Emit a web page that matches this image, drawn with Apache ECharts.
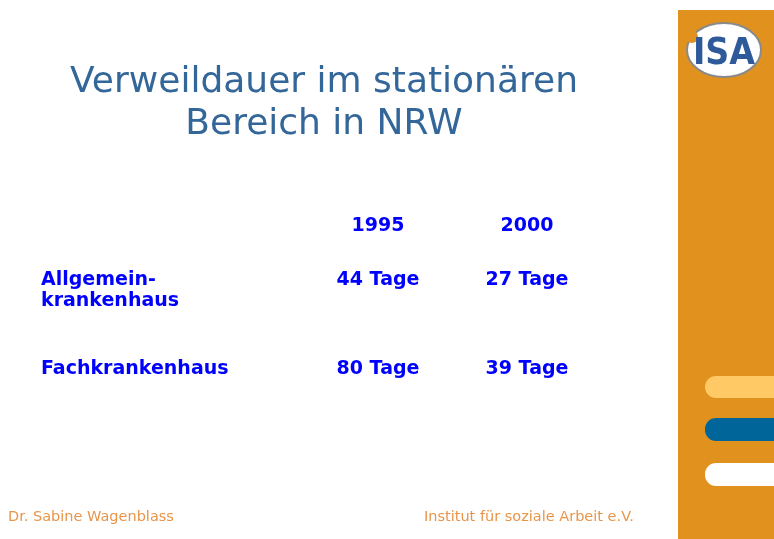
<!DOCTYPE html>
<html>
<head>
<meta charset="utf-8">
<script src="https://cdn.jsdelivr.net/npm/echarts@6/dist/echarts.min.js"></script>
<style>
  html, body { margin: 0; padding: 0; background: #fff; }
  #main { width: 774px; height: 539px; }
</style>
</head>
<body>
<div id="main"></div>
<script>
var years = ["1995", "2000"];
var rows = ["Allgemein-\nkrankenhaus", "Fachkrankenhaus"];
var days1995 = [44, 80];
var days2000 = [27, 39];

var chart = echarts.init(document.getElementById("main"));

var blue = "#0000ff";
var tableFont = "DejaVu Sans";

function points(yearIdx, values) {
  return values.map(function (v, i) {
    return [yearIdx, i, v];
  });
}

var valueLabel = {
  show: true,
  position: "inside",
  offset: [0, 10],
  formatter: function (p) { return p.value[2] + " Tage"; },
  color: blue,
  fontFamily: tableFont,
  fontWeight: "bold",
  fontSize: 19
};

var option = {
  backgroundColor: "#ffffff",
  animation: false,
  grid: { left: 303.5, right: 172.5, top: 225.5, bottom: 135.5 },
  xAxis: {
    type: "category",
    data: years,
    position: "top",
    axisLine: { show: false },
    axisTick: { show: false },
    splitLine: { show: false },
    axisLabel: {
      color: blue,
      fontFamily: tableFont,
      fontWeight: "bold",
      fontSize: 19,
      margin: -10
    }
  },
  yAxis: {
    type: "category",
    data: rows,
    inverse: true,
    axisLine: { show: false },
    axisTick: { show: false },
    splitLine: { show: false },
    axisLabel: {
      color: blue,
      fontFamily: tableFont,
      fontWeight: "bold",
      fontSize: 19,
      lineHeight: 21,
      align: "left",
      verticalAlign: "top",
      margin: 262.5
    }
  },
  series: [
    { name: "1995", type: "scatter", symbolSize: 0, itemStyle: { opacity: 1 }, data: points(0, days1995), label: valueLabel },
    { name: "2000", type: "scatter", symbolSize: 0, itemStyle: { opacity: 1 }, data: points(1, days2000), label: valueLabel }
  ],
  graphic: [
    {
      type: "text",
      x: 324, y: 104,
      style: {
        text: "Verweildauer im stationären\nBereich in NRW",
        fill: "#336699",
        font: "36px 'DejaVu Sans'",
        lineHeight: 42,
        textAlign: "center",
        textVerticalAlign: "middle"
      }
    },
    {
      type: "rect",
      shape: { x: 678, y: 10, width: 96, height: 529 },
      style: { fill: "#e1921e" }
    },
    {
      type: "rect",
      shape: { x: 705, y: 376, width: 80, height: 22, r: 11 },
      style: { fill: "#ffc966" }
    },
    {
      type: "rect",
      shape: { x: 705, y: 418, width: 80, height: 23, r: 11 },
      style: { fill: "#006699" }
    },
    {
      type: "rect",
      shape: { x: 705, y: 463, width: 80, height: 23, r: 11 },
      style: { fill: "#ffffff" }
    },
    {
      type: "ellipse",
      shape: { cx: 724, cy: 50, rx: 37, ry: 27 },
      style: { fill: "#ffffff", stroke: "#8a8a8a", lineWidth: 2 }
    },
    {
      type: "circle",
      shape: { cx: 692, cy: 37, r: 6 },
      style: { fill: "#e1921e" }
    },
    {
      type: "text",
      x: 724, y: 54,
      style: {
        text: "ISA",
        fill: "#2f5a9a",
        font: "bold 37px 'DejaVu Sans Condensed'",
        textAlign: "center",
        textVerticalAlign: "middle"
      }
    },
    {
      type: "text",
      x: 8, y: 517,
      style: {
        text: "Dr. Sabine Wagenblass",
        fill: "#e8954a",
        font: "14.5px 'DejaVu Sans'",
        textVerticalAlign: "middle"
      }
    },
    {
      type: "text",
      x: 424, y: 517,
      style: {
        text: "Institut für soziale Arbeit e.V.",
        fill: "#e8954a",
        font: "14.5px 'DejaVu Sans'",
        textVerticalAlign: "middle"
      }
    }
  ]
};

chart.setOption(option);
</script>
</body>
</html>
